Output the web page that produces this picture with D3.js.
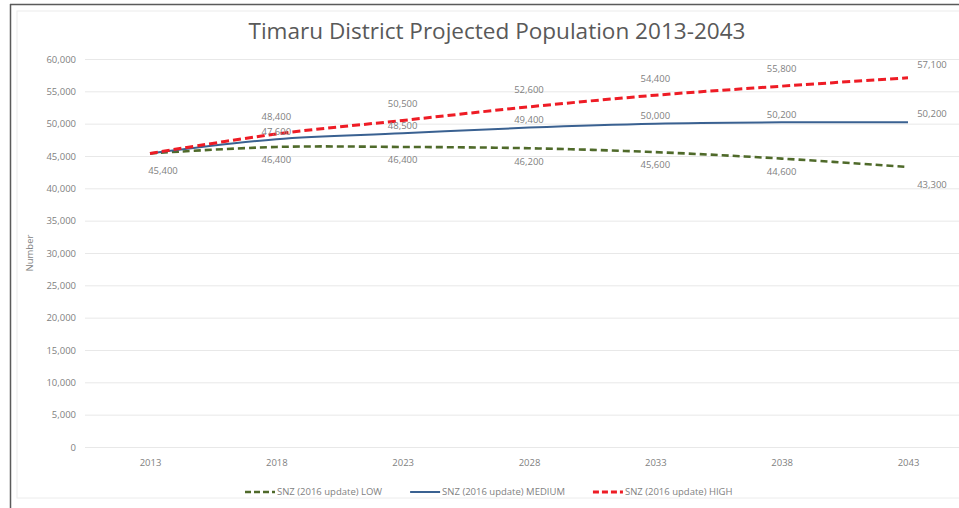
<!DOCTYPE html>
<html>
<head>
<meta charset="utf-8">
<script src="https://cdn.jsdelivr.net/npm/d3@7"></script>
<style>
  body { margin: 0; background: #fff; }
  text { font-family: "Open Sans", "Noto Sans", sans-serif; }
</style>
</head>
<body>
<div id="chart"></div>
<script>
// --- données ---
const annees = ["2013", "2018", "2023", "2028", "2033", "2038", "2043"];
const bas = [45400, 46400, 46400, 46200, 45600, 44600, 43300];
const moyen = [45400, 47600, 48500, 49400, 50000, 50200, 50200];
const haut = [45400, 48400, 50500, 52600, 54400, 55800, 57100];
const graduations = [0, 5000, 10000, 15000, 20000, 25000, 30000, 35000, 40000, 45000, 50000, 55000, 60000];
const titre = "Timaru District Projected Population 2013-2043";

const largeur = 959, hauteur = 508;

const svg = d3.select("#chart").append("svg")
  .attr("width", largeur).attr("height", hauteur);

// cadre
svg.append("rect").attr("x", 17).attr("y", 11).attr("width", 960).attr("height", 487)
  .attr("fill", "none").attr("stroke", "#ececec");
svg.append("line").attr("x1", 10).attr("x2", 959).attr("y1", 4.5).attr("y2", 4.5)
  .attr("stroke", "#5a5a5a").attr("stroke-width", 1.5);
svg.append("line").attr("x1", 10.5).attr("x2", 10.5).attr("y1", 4).attr("y2", 508)
  .attr("stroke", "#5a5a5a").attr("stroke-width", 1.5);

// échelles
const x = d3.scalePoint().domain(annees).range([150, 908]);
const y = d3.scaleLinear().domain([0, 60000]).range([447, 59]);

// grille + axe Y
const axeY = svg.append("g").attr("transform", "translate(85,0)")
  .call(d3.axisLeft(y).tickValues(graduations).tickSize(-(largeur - 85)).tickPadding(9)
    .tickFormat(d3.format(",")));
axeY.select(".domain").remove();
axeY.selectAll(".tick line").attr("stroke", "#e8e8e8");
axeY.selectAll(".tick text").attr("fill", "#7f7f7f").style("font-size", "9.5px");

// axe X
const axeX = svg.append("g").attr("transform", "translate(0,447)")
  .call(d3.axisBottom(x).tickSize(0).tickPadding(12));
axeX.select(".domain").remove();
axeX.selectAll(".tick text").attr("fill", "#7f7f7f").style("font-size", "9.5px");

// titre de l'axe
svg.append("text").attr("transform", "translate(33,253) rotate(-90)")
  .attr("text-anchor", "middle").attr("fill", "#7f7f7f").style("font-size", "9.5px")
  .text("Number");

// titre
const t = svg.append("text").attr("x", 497).attr("y", 39).attr("text-anchor", "middle")
  .attr("fill", "#595959").style("font-size", "22px").text(titre);
const w = t.node().getComputedTextLength();
t.style("font-size", (22 * 497 / w).toFixed(2) + "px");

// séries
const series = [
  { nom: "SNZ (2016 update) LOW", valeurs: bas, couleur: "#4f6a2a", dash: "7,4", ep: 2.6, dy: 13 },
  { nom: "SNZ (2016 update) MEDIUM", valeurs: moyen, couleur: "#3a6191", dash: null, ep: 2, dy: -8 },
  { nom: "SNZ (2016 update) HIGH", valeurs: haut, couleur: "#ee1c25", dash: "8,4", ep: 3, dy: -17 }
];

const ligne = d3.line()
  .x((d, i) => x(annees[i]))
  .y(d => y(d))
  .curve(d3.curveCatmullRom.alpha(0));

series.forEach(s => {
  svg.append("path").datum(s.valeurs)
    .attr("d", ligne)
    .attr("fill", "none")
    .attr("stroke", s.couleur)
    .attr("stroke-width", s.ep)
    .attr("stroke-dasharray", s.dash);
});

// étiquettes de données
const fmt = d3.format(",");
series.forEach((s, k) => {
  s.valeurs.forEach((v, i) => {
    if (i === 0 && k !== 0) return; // une seule étiquette au départ
    let dx = 0, dy = s.dy;
    if (i === 0) { dx = 13; dy = 17; }
    if (i === annees.length - 1) { dx = 24; dy = [18, -9, -13][k]; }
    svg.append("text")
      .attr("x", x(annees[i]) + dx)
      .attr("y", y(v) + dy)
      .attr("dy", "0.35em")
      .attr("text-anchor", "middle")
      .attr("fill", "#7f7f7f")
      .style("font-size", "9.5px")
      .text(fmt(v));
  });
});

// légende
const legende = svg.append("g").attr("transform", "translate(245,492)");
let cx = 0;
series.forEach(s => {
  const g = legende.append("g").attr("transform", `translate(${cx},0)`);
  g.append("line").attr("x1", 0).attr("x2", 30).attr("y1", 0).attr("y2", 0)
    .attr("stroke", s.couleur).attr("stroke-width", s.ep)
    .attr("stroke-dasharray", s.dash ? "6,3" : null);
  const tx = g.append("text").attr("x", 32).attr("dy", "0.35em")
    .attr("fill", "#7f7f7f").style("font-size", "9.5px").text(s.nom);
  cx += 32 + tx.node().getComputedTextLength() + 28;
});
</script>
</body>
</html>
